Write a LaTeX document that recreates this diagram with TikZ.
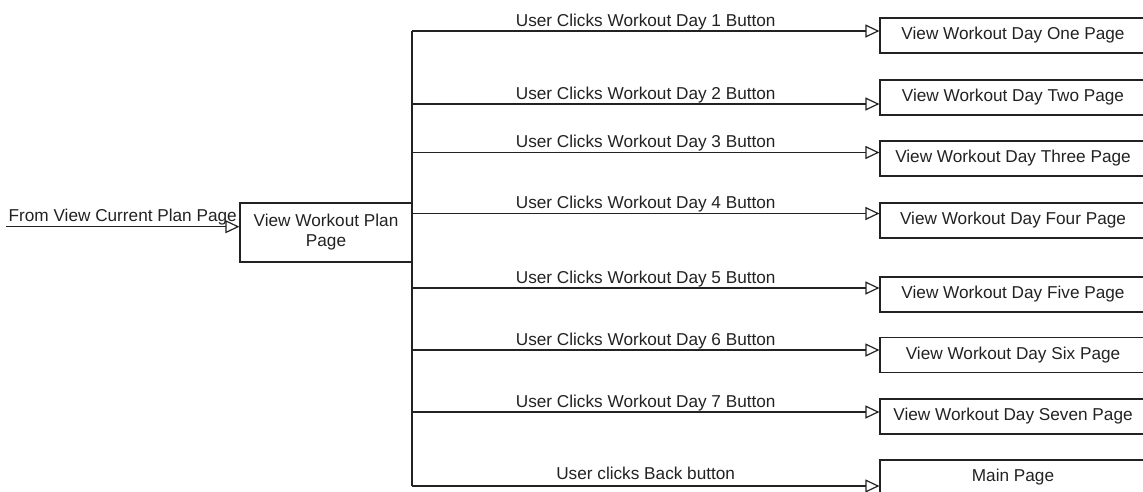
\documentclass[tikz,border=0pt]{standalone}
\usepackage{fontspec}
\setmainfont{Liberation Sans}
\usetikzlibrary{arrows.meta}
\definecolor{ink}{HTML}{222222}
\tikzset{
  pagebox/.style={draw=ink, line width=1.2pt, rectangle, inner sep=0pt,
    minimum width=266pt, minimum height=35pt, text=ink, font=\fontsize{17.2}{20}\selectfont},
  mainbox/.style={draw=ink, line width=1.2pt, rectangle, inner sep=0pt, align=center,
    minimum width=172pt, minimum height=59pt, text=ink, font=\fontsize{17.2}{20}\selectfont},
  flow/.style={draw=ink, line width=1.2pt, -{Triangle[open, length=14pt, width=13pt]}},
  trunk/.style={draw=ink, line width=1.2pt},
  lbl/.style={anchor=base, inner sep=0pt, text=ink, font=\fontsize{17.2}{20}\selectfont}
}
\begin{document}
\begin{tikzpicture}[x=1pt, y=-1pt]
\useasboundingbox (0,0) rectangle (1143,491);
\clip (0,0) rectangle (1143,491);

% central page and its entry
\node[mainbox] (plan) at (326,232.5) {View Workout Plan\\Page};
\coordinate (entry) at (6,226.7);
\draw[flow] (entry) -- (entry -| plan.west)
  node[lbl, pos=0.5, yshift=5pt] (fromlbl) {From View Current Plan Page};

% target pages (their right edges run past the frame)
\node[pagebox] (d1) at (1013,35.5)  {View Workout Day One Page};
\node[pagebox] (d2) at (1013,97.5)  {View Workout Day Two Page};
\node[pagebox] (d3) at (1013,158.5) {View Workout Day Three Page};
\node[pagebox] (d4) at (1013,220.5) {View Workout Day Four Page};
\node[pagebox] (d5) at (1013,294.5) {View Workout Day Five Page};
\node[pagebox] (d6) at (1013,355)   {View Workout Day Six Page};
\node[pagebox] (d7) at (1013,416.5) {View Workout Day Seven Page};
\node[pagebox] (d8) at (1013,477.5) {Main Page};

% branch points on the trunk
\coordinate (b1) at (412,31);
\coordinate (b2) at (412,104);
\coordinate (b3) at (412,152.5);
\coordinate (b4) at (412,213.5);
\coordinate (b5) at (412,288);
\coordinate (b6) at (412,350);
\coordinate (b7) at (412,412);
\coordinate (b8) at (412,486);

\draw[trunk] (b1) -- (b8);

\draw[flow] (b1) -- (b1 -| d1.west) node[lbl, midway, yshift=5pt] {User Clicks Workout Day 1 Button};
\draw[flow] (b2) -- (b2 -| d2.west) node[lbl, midway, yshift=5pt] {User Clicks Workout Day 2 Button};
\draw[flow] (b3) -- (b3 -| d3.west) node[lbl, midway, yshift=5pt] {User Clicks Workout Day 3 Button};
\draw[flow] (b4) -- (b4 -| d4.west) node[lbl, midway, yshift=5pt] {User Clicks Workout Day 4 Button};
\draw[flow] (b5) -- (b5 -| d5.west) node[lbl, midway, yshift=5pt] {User Clicks Workout Day 5 Button};
\draw[flow] (b6) -- (b6 -| d6.west) node[lbl, midway, yshift=5pt] {User Clicks Workout Day 6 Button};
\draw[flow] (b7) -- (b7 -| d7.west) node[lbl, midway, yshift=5pt] {User Clicks Workout Day 7 Button};
\draw[flow] (b8) -- (b8 -| d8.west) node[lbl, midway, yshift=7pt] {User clicks Back button};
\end{tikzpicture}
\end{document}
